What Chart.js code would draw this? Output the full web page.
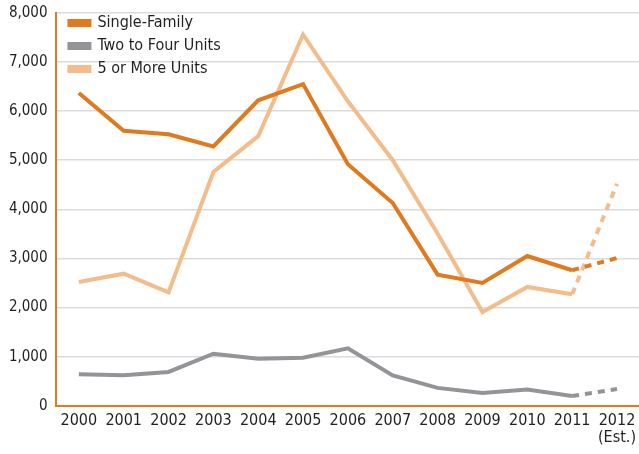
<!DOCTYPE html>
<html>
<head>
<style>
  body { margin: 0; background: #fff; overflow: hidden; }
  #wrap { width: 642px; height: 458px; margin-top: -5px; }
</style>
</head>

<body>

<div id="wrap">
  <canvas id="myChart"></canvas>
</div>

<script src="https://cdn.jsdelivr.net/npm/chart.js"></script>

<script>
  // housing starts by structure type, thousands of units
  const years = ['2000', '2001', '2002', '2003', '2004', '2005', '2006',
                 '2007', '2008', '2009', '2010', '2011', ['2012', '(Est.)']];
  const singleFamily = [6370, 5600, 5530, 5280, 6220, 6550, 4920, 4130, 2670, 2500, 3050, 2760, 3010];
  const twoToFour = [640, 620, 690, 1060, 960, 980, 1170, 620, 365, 260, 330, 200, 340];
  const fivePlus = [2520, 2690, 2310, 4760, 5490, 7560, 6200, 5000, 3510, 1910, 2420, 2270, 4520];
  const yTicks = [0, 1000, 2000, 3000, 4000, 5000, 6000, 7000, 8000];

  const ORANGE = '#e07a1f';
  const GREY = '#929497';
  const PEACH = '#f2bd8b';
  const FONT = "'DejaVu Sans Condensed', 'Liberation Sans Narrow', sans-serif";

  // last segment (2011 -> 2012) is an estimate, drawn dashed
  const estDash = ctx => ctx.p1DataIndex === years.length - 1 ? [7, 6] : undefined;

  function series(label, values, color) {
    return {
      label: label,
      data: values,
      borderColor: color,
      backgroundColor: color,
      borderWidth: 4,
      pointRadius: 0,
      tension: 0,
      segment: { borderDash: estDash }
    };
  }

  // nudge the in-plot legend away from the axis corner
  const legendOffset = {
    id: 'legendOffset',
    afterLayout(chart) {
      const lg = chart.legend;
      lg.left += 6; lg.right += 6;
      lg.top += 13; lg.bottom += 13;
    }
  };

  const data = {
    labels: years,
    datasets: [
      series('Single-Family', singleFamily, ORANGE),
      series('Two to Four Units', twoToFour, GREY),
      series('5 or More Units', fivePlus, PEACH)
    ]
  };

  const config = {
    type: 'line',
    data: data,
    plugins: [legendOffset],
    options: {
      responsive: true,
      maintainAspectRatio: false,
      animation: false,
      layout: { padding: 0 },
      plugins: {
        tooltip: { enabled: false },
        legend: {
          position: 'chartArea',
          align: 'start',
          labels: {
            boxWidth: 20,
            boxHeight: 4,
            padding: 7,
            color: '#231f20',
            font: { family: FONT, size: 16 }
          }
        }
      },
      scales: {
        x: {
          offset: true,
          grid: { display: false, drawTicks: false },
          border: { color: ORANGE, width: 2 },
          ticks: {
            color: '#231f20',
            padding: 6,
            maxRotation: 0,
            autoSkip: false,
            font: { family: FONT, size: 16, lineHeight: 1.1 }
          }
        },
        y: {
          min: 0,
          max: 8000,
          afterBuildTicks: axis => { axis.ticks = yTicks.map(v => ({ value: v })); },
          grid: { color: '#dcdcdc', lineWidth: 1.5, drawTicks: false },
          border: { color: ORANGE, width: 2 },
          ticks: {
            color: '#231f20',
            padding: 8.9,
            font: { family: FONT, size: 15 },
            callback: v => v.toLocaleString('en-US')
          }
        }
      }
    }
  };

  const myChart = new Chart(document.getElementById('myChart'), config);
</script>

</body>
</html>
